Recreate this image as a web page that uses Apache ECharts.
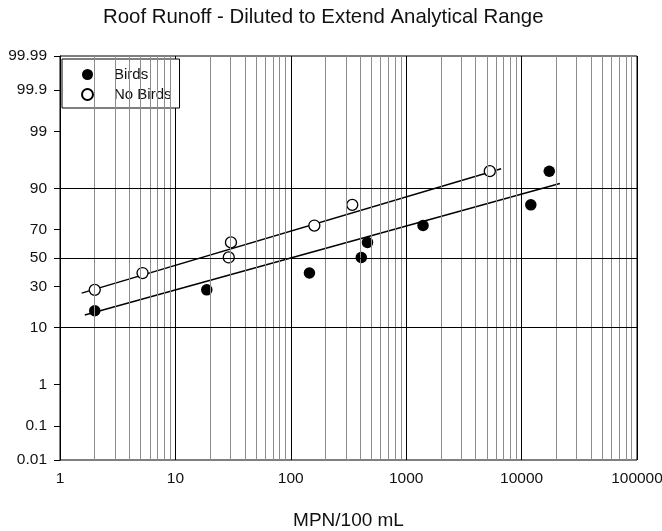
<!DOCTYPE html>
<html>
<head>
<meta charset="utf-8">
<script src="https://cdn.jsdelivr.net/npm/echarts@6/dist/echarts.min.js"></script>
<style>html,body{margin:0;padding:0;background:#fff}#c{width:662px;height:531px}</style>
</head>
<body>
<div id="c"></div>
<script>
// ---- data (x: MPN/100 mL, y: cumulative percent) ----
const birdsX = [2.0, 18.7, 145, 408, 462, 1400, 12020, 17370];
const birdsY = [16.6, 27.9, 39.1, 50.4, 61.3, 72.5, 83.6, 94.5];
const noBirdsX = [2.0, 5.19, 29.0, 30.3, 160, 341, 5300];
const noBirdsY = [27.9, 39.1, 50.4, 61.3, 72.5, 83.6, 94.5];
// fitted lines (end points)
const birdsFitX = [1.64, 21460];
const birdsFitY = [14.7, 91.5];
const noBirdsFitX = [1.54, 6650];
const noBirdsFitY = [25.9, 95.0];
// axis ticks
const yTicks = [0.01, 0.1, 1, 10, 30, 50, 70, 90, 99, 99.9, 99.99];
const yTickLabels = ['0.01', '0.1', '1', '10', '30', '50', '70', '90', '99', '99.9', '99.99'];
const yGridLines = [10, 50, 90];
const xMin = 1, xMax = 100000;

function probit(p) {
  const a=[-3.969683028665376e+01,2.209460984245205e+02,-2.759285104469687e+02,1.383577518672690e+02,-3.066479806614716e+01,2.506628277459239e+00];
  const b=[-5.447609879822406e+01,1.615858368580409e+02,-1.556989798598866e+02,6.680131188771972e+01,-1.328068155288572e+01];
  const c=[-7.784894002430293e-03,-3.223964580411365e-01,-2.400758277161838e+00,-2.549732539343734e+00,4.374664141464968e+00,2.938163982698783e+00];
  const d=[7.784695709041462e-03,3.224671290700398e-01,2.445134137142996e+00,3.754408661907416e+00];
  const pl = 0.02425, ph = 1 - pl;
  let q, r;
  if (p < pl) { q = Math.sqrt(-2*Math.log(p)); return (((((c[0]*q+c[1])*q+c[2])*q+c[3])*q+c[4])*q+c[5])/((((d[0]*q+d[1])*q+d[2])*q+d[3])*q+1); }
  if (p <= ph) { q = p - 0.5; r = q*q; return (((((a[0]*r+a[1])*r+a[2])*r+a[3])*r+a[4])*r+a[5])*q/(((((b[0]*r+b[1])*r+b[2])*r+b[3])*r+b[4])*r+1); }
  q = Math.sqrt(-2*Math.log(1-p)); return -(((((c[0]*q+c[1])*q+c[2])*q+c[3])*q+c[4])*q+c[5])/((((d[0]*q+d[1])*q+d[2])*q+d[3])*q+1);
}
function zOf(pct) {
  if (pct > 50) return -probit(Math.round((100 - pct) * 1e6) / 1e8);
  return probit(pct / 100);
}
const zTicks = yTicks.map(zOf);
const yMin = zTicks[0], yMax = zTicks[zTicks.length - 1];

const pairs = (xs, ys) => xs.map((x, i) => [x, zOf(ys[i])]);

// minor vertical grid values (2..9 x 10^k)
const minorX = [];
for (let dec = 1; dec < xMax; dec *= 10) for (let m = 2; m <= 9; m++) minorX.push(m * dec);

const txt = '#111';
const font = 'Liberation Sans, Arial, sans-serif';

const chart = echarts.init(document.getElementById('c'), null, {renderer: 'canvas'});
chart.setOption({
  animation: false,
  backgroundColor: '#fff',
  title: {
    text: 'Roof Runoff - Diluted to Extend Analytical Range',
    left: 103,
    top: 7,
    padding: 0,
    textStyle: {fontFamily: font, fontSize: 20.4, fontWeight: 'normal', color: txt}
  },
  legend: {
    orient: 'vertical',
    left: 62, top: 59,
    padding: [8, 8, 6, 19],
    itemGap: 5,
    itemWidth: 11, itemHeight: 11,
    borderColor: '#000', borderWidth: 1,
    backgroundColor: '#fff',
    textStyle: {fontFamily: font, fontSize: 15, color: txt, lineHeight: 15, padding: [0, 0, 0, 16]},
    data: ['Birds', 'No Birds']
  },
  grid: {left: 60, right: 25, top: 56, bottom: 71, show: true, borderColor: '#000', borderWidth: 1,
         backgroundColor: 'transparent', containLabel: false, outerBoundsMode: 'none'},
  xAxis: {
    type: 'log', logBase: 10, min: xMin, max: xMax,
    name: 'MPN/100 mL', nameLocation: 'middle', nameGap: 51,
    nameTextStyle: {fontFamily: font, fontSize: 19, color: txt},
    axisLine: {lineStyle: {color: '#000', width: 1}},
    axisTick: {show: true, length: 6, lineStyle: {color: '#000'}},
    axisLabel: {fontFamily: font, fontSize: 15.5, color: txt, margin: 11, formatter: v => String(Math.round(v))},
    splitLine: {show: true, lineStyle: {color: '#000', width: 1}},
    minorTick: {show: false}, minorSplitLine: {show: false}
  },
  yAxis: {
    type: 'value', min: yMin, max: yMax,
    axisLine: {show: true, lineStyle: {color: '#000', width: 1}},
    axisTick: {show: true, length: 6, customValues: zTicks, lineStyle: {color: '#000'}},
    axisLabel: {
      fontFamily: font, fontSize: 15.5, color: txt, margin: 13, customValues: zTicks,
      formatter: v => { for (let i = 0; i < zTicks.length; i++) if (Math.abs(zTicks[i] - v) < 1e-6) return yTickLabels[i]; return ''; }
    },
    splitLine: {show: false}
  },
  series: [
    {
      name: 'grid', type: 'line', data: [], silent: true, z: 1,
      markLine: {
        silent: true, symbol: ['none', 'none'], label: {show: false}, animation: false,
        data: minorX.map(v => ({xAxis: v, lineStyle: {color: '#8c8c8c', width: 1, type: 'solid'}}))
          .concat(yGridLines.map(p => ({yAxis: zOf(p), lineStyle: {color: '#000', width: 1, type: 'solid'}})))
      }
    },
    {
      name: 'Birds fit', type: 'line', data: pairs(birdsFitX, birdsFitY), showSymbol: false, symbol: 'none',
      lineStyle: {color: '#000', width: 1.5}, z: 3, silent: true
    },
    {
      name: 'No Birds fit', type: 'line', data: pairs(noBirdsFitX, noBirdsFitY), showSymbol: false, symbol: 'none',
      lineStyle: {color: '#000', width: 1.5}, z: 3, silent: true
    },
    {
      name: 'Birds', type: 'scatter', data: pairs(birdsX, birdsY), symbol: 'circle', symbolSize: 11.5,
      itemStyle: {color: '#000', borderColor: '#000', borderWidth: 0, opacity: 1}, z: 4
    },
    {
      name: 'No Birds', type: 'scatter', data: pairs(noBirdsX, noBirdsY), symbol: 'circle', symbolSize: 11,
      itemStyle: {color: '#fff', borderColor: '#000', borderWidth: 1.3, opacity: 1}, z: 4
    }
  ]
});
</script>
</body>
</html>
